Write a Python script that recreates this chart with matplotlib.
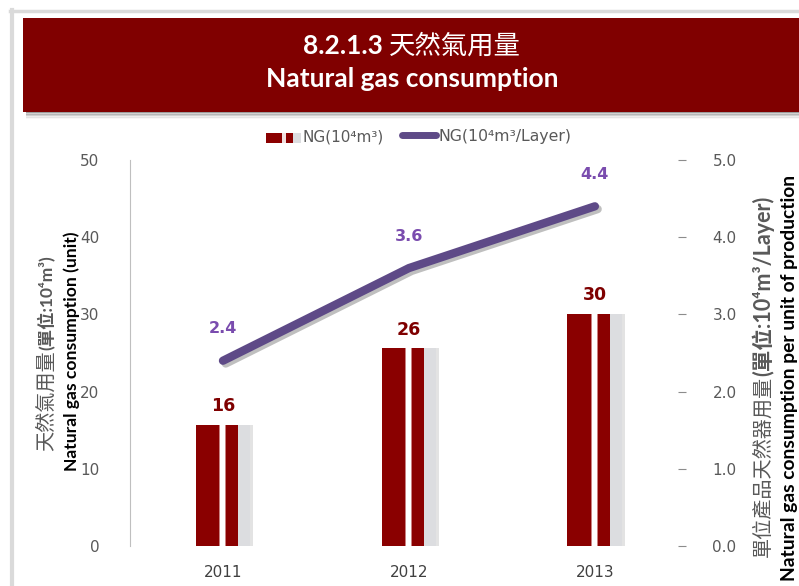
import matplotlib
matplotlib.use("Agg")
import matplotlib.pyplot as plt
from matplotlib.patches import Rectangle
from matplotlib.lines import Line2D
import matplotlib.patheffects as pe

# data
years = ["2011", "2012", "2013"]
ng_total = [15.7, 25.6, 30.1]          # 10^4 m3
ng_per_layer = [2.4, 3.6, 4.4]         # 10^4 m3 / Layer

RED = "#8B0000"
BAR_RED = "#8A0000"
PURPLE = "#5E4A87"
LBL_PURPLE = "#7A4CAE"
GRAY_TXT = "#595959"

plt.rcParams["font.family"] = ["DejaVu Sans", "Noto Sans CJK TC"]
LATO = ["Lato", "Noto Sans CJK TC", "DejaVu Sans"]

W, H = 799, 586
fig = plt.figure(figsize=(W / 100, H / 100), dpi=100)
r = fig.canvas.get_renderer()

def fx(px):
    return px / W

def fy(py):
    return 1 - py / H

# outer frame
fig.add_artist(Line2D([fx(10), fx(799)], [fy(11), fy(11)], color="#DADADA", lw=2.5))
fig.add_artist(Line2D([fx(12), fx(12)], [fy(10), fy(586)], color="#DADADA", lw=3))

# title bar with shadow
for i, a in enumerate([0.25, 0.18, 0.12, 0.07, 0.03]):
    fig.add_artist(Rectangle((fx(26), fy(113 + i * 1.5)), fx(799) - fx(26), 2 / H,
                             transform=fig.transFigure, color="black", alpha=a, lw=0))
fig.add_artist(Rectangle((fx(23), fy(112)), 1 - fx(23), 94 / H,
                         transform=fig.transFigure, color="#800000", lw=0))
t1 = fig.text(0, fy(46), "8.2.1.3 ", color="white", fontsize=19, ha="left",
              va="center", family=LATO, fontweight="bold")
t2 = fig.text(0, fy(46), "天然氣用量", color="white", fontsize=19, ha="left",
              va="center", family=LATO)
fig.text(fx(412), fy(79), "Natural gas consumption", color="white", fontsize=19,
         ha="center", va="center", family=LATO, fontweight="bold")
w1 = t1.get_window_extent(r).width
w2 = t2.get_window_extent(r).width
x0 = 412 - (w1 + w2) / 2
t1.set_x(fx(x0))
t2.set_x(fx(x0 + w1))

# axes
ax = fig.add_axes([fx(130), fy(546), fx(686) - fx(130), (546 - 160) / H])
ax2 = ax.twinx()

x = list(range(len(years)))
bw = 0.295
# bar stripes: (start, end, color) as fraction of bar width
stripes = [(0.0, 0.43, BAR_RED), (0.43, 0.45, "#C98080"), (0.45, 0.53, "white"),
           (0.53, 0.555, "#C98080"), (0.555, 0.78, BAR_RED), (0.78, 1.0, "#DCDDE0"),
           (1.0, 1.05, "#C8C8C8")]
for s0, s1, c in stripes:
    ax.bar([xi - bw / 2 + s0 * bw for xi in x], ng_total, width=(s1 - s0) * bw,
           align="edge", color=c, lw=0, alpha=0.5 if s0 >= 1.0 else 1)

for xi, v in zip(x, ng_total):
    ax.annotate(f"{v:.0f}", (xi, v), xytext=(0, 7), textcoords="offset points",
                ha="center", va="bottom", color="#7F0000", fontsize=12.5,
                fontweight="bold")

ax2.plot(x, ng_per_layer, color=PURPLE, lw=6, solid_capstyle="round",
         path_effects=[pe.SimpleLineShadow(offset=(2, -2), alpha=0.25), pe.Normal()])
for xi, v in zip(x, ng_per_layer):
    ax2.annotate(f"{v:.1f}", (xi, v), xytext=(0, 23), textcoords="offset points",
                 ha="center", va="center", color=LBL_PURPLE, fontsize=11.5,
                 fontweight="bold")

ax.set_xlim(-0.5, 2.49)
ax.set_ylim(0, 50)
ax2.set_ylim(0, 5)
ax.set_yticks(range(0, 51, 10))
ax2.set_yticks([0, 1, 2, 3, 4, 5])
ax2.set_yticklabels([f"{t:.1f}" for t in [0, 1, 2, 3, 4, 5]])
ax.set_xticks(x)
ax.set_xticklabels(years)

for a in (ax, ax2):
    for s in a.spines.values():
        s.set_visible(False)
ax.spines["left"].set_visible(True)
ax.spines["left"].set_color("#BFBFBF")
ax.tick_params(axis="y", length=0, pad=22, labelsize=11, labelcolor=GRAY_TXT)
ax.tick_params(axis="x", length=0, pad=14, labelsize=11, labelcolor="#404040")
ax2.tick_params(axis="y", direction="in", length=6, color="#8C8C8C", pad=19,
                labelsize=11, labelcolor=GRAY_TXT)

# axis titles (regular Chinese part + bold unit part)
la = fig.text(fx(45), fy(451), "天然氣用量", rotation=90, ha="center",
              va="bottom", fontsize=14.5, color=GRAY_TXT, family=LATO)
hl_px = la.get_window_extent(r).height
fig.text(fx(46), fy(451 - hl_px), "(單位:10⁴m³)", rotation=90, ha="center",
         va="bottom", fontsize=12.5, color=GRAY_TXT, family=LATO, fontweight="bold")
fig.text(fx(72), fy(351), "Natural gas consumption (unit)", rotation=90,
         ha="center", va="center", fontsize=12.6, color="black", family=LATO,
         fontweight="bold")
ra = fig.text(fx(762), fy(557), "單位產品天然器用量", rotation=90, ha="center",
              va="bottom", fontsize=14.5, color=GRAY_TXT, family=LATO)
hr_px = ra.get_window_extent(r).height
fig.text(fx(763), fy(557 - hr_px), "(單位:10⁴m³/Layer)", rotation=90, ha="center",
         va="bottom", fontsize=15.5, color=GRAY_TXT, family=LATO, fontweight="bold")
fig.text(fx(789), fy(378), "Natural gas consumption per unit of production",
         rotation=90, ha="center", va="center", fontsize=13.9, color="black",
         family=LATO, fontweight="bold")

# legend
leg = [(266, 282, RED), (282, 286, "#F0E0E0"), (286, 293, RED), (293, 301, "#DCDDE0")]
for a0, a1, c in leg:
    fig.add_artist(Rectangle((fx(a0), fy(143)), (a1 - a0) / W, 10 / H,
                             transform=fig.transFigure, color=c, lw=0))
fig.text(fx(303), fy(137), "NG(10⁴m³)", ha="left", va="center", fontsize=11,
         color=GRAY_TXT)
fig.add_artist(Line2D([fx(402), fx(436)], [fy(135), fy(135)], color=PURPLE, lw=5,
                      solid_capstyle="round"))
fig.text(fx(439), fy(136), "NG(10⁴m³/Layer)", ha="left", va="center",
         fontsize=11.3, color=GRAY_TXT)

fig.savefig("out.png", dpi=100)
